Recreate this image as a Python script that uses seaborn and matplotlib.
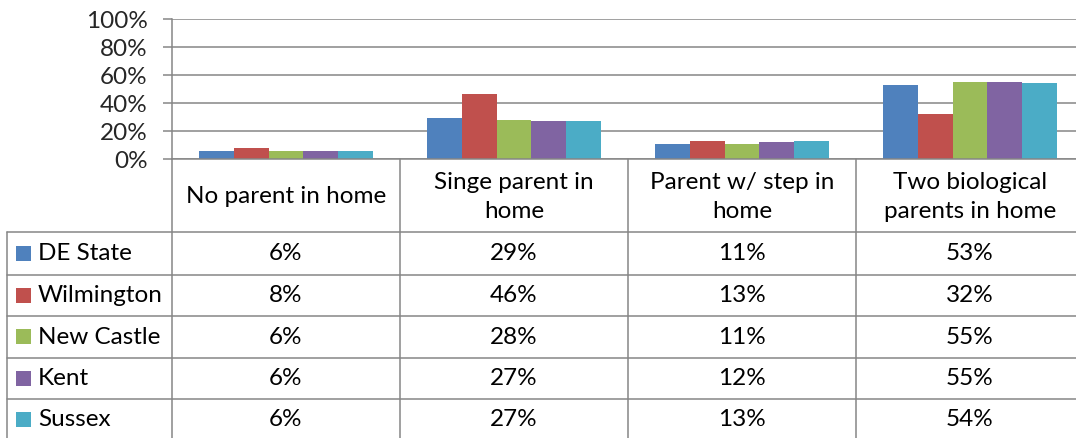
import matplotlib
matplotlib.use("Agg")
import matplotlib.pyplot as plt
import matplotlib.transforms as mtransforms
from matplotlib.lines import Line2D
from matplotlib.patches import Rectangle
from matplotlib.ticker import PercentFormatter
import seaborn as sns
import pandas as pd

# Household structure shares by area
categories = ["No parent in home", "Singe parent in home",
              "Parent w/ step in home", "Two biological parents in home"]
header_labels = ["No parent in home", "Singe parent in\nhome",
                 "Parent w/ step in\nhome", "Two biological\nparents in home"]
regions = ["DE State", "Wilmington", "New Castle", "Kent", "Sussex"]
de_state = [6, 29, 11, 53]
wilmington = [8, 46, 13, 32]
new_castle = [6, 28, 11, 55]
kent = [6, 27, 12, 55]
sussex = [6, 27, 13, 54]
colors = ["#4F81BD", "#C0504D", "#9BBB59", "#8064A2", "#4BACC6"]

series = [de_state, wilmington, new_castle, kent, sussex]
rows = []
for reg, vals in zip(regions, series):
    for cat, v in zip(categories, vals):
        rows.append({"category": cat, "region": reg, "share": v / 100})
df = pd.DataFrame(rows)

sns.set_style("white")
plt.rcParams["font.family"] = ["Lato", "DejaVu Sans"]
FS = 17.5
GRID = "#868686"

W, H = 1076, 439
fig = plt.figure(figsize=(W / 100, H / 100), dpi=100)

left_px, right_px, top_px, bottom_px = 172, 1084, 19.5, 160
ax = fig.add_axes([left_px / W, 1 - bottom_px / H,
                   (right_px - left_px) / W, (bottom_px - top_px) / H])

sns.barplot(data=df, x="category", y="share", hue="region", order=categories,
            hue_order=regions, palette=colors, width=0.767, linewidth=0,
            saturation=1, legend=False, ax=ax)

ax.set_xlim(-0.5, 3.5)
ax.set_ylim(0, 1)
ax.set_yticks([0, 0.2, 0.4, 0.6, 0.8, 1.0])
ax.yaxis.set_major_formatter(PercentFormatter(xmax=1, decimals=0))
ax.set_xlabel("")
ax.set_ylabel("")
ax.set_xticks([])
ax.yaxis.grid(True, color=GRID, linewidth=1.1)
ax.set_axisbelow(True)
ax.tick_params(axis="y", which="major", direction="out", length=6.5,
               width=1.1, color=GRID, labelsize=FS, pad=11, left=True)
for s in ["top", "right"]:
    ax.spines[s].set_visible(False)
for s in ["left", "bottom"]:
    ax.spines[s].set_color(GRID)
    ax.spines[s].set_linewidth(1.1)

# Data table beneath the plot
def fy(py):
    return 1 - py / H

col_tr = mtransforms.blended_transform_factory(ax.transData, fig.transFigure)
row_edges = [233, 275.5, 317, 358.5, 400]
row_centers = [254, 296, 337.5, 379, 420]

for xb in [-0.5, 0.5, 1.5, 2.5, 3.5]:
    fig.add_artist(Line2D([xb, xb], [fy(bottom_px), 0], transform=col_tr,
                          color=GRID, linewidth=1.1, clip_on=False))
for yb in row_edges:
    fig.add_artist(Line2D([7 / W, 1], [fy(yb), fy(yb)],
                          transform=fig.transFigure, color=GRID,
                          linewidth=1.1, clip_on=False))
fig.add_artist(Line2D([7 / W, 7 / W], [fy(233), 0], transform=fig.transFigure,
                      color=GRID, linewidth=1.1, clip_on=False))

for i, lab in enumerate(header_labels):
    fig.text(i, fy(197), lab, transform=col_tr, ha="center", va="center",
             fontsize=FS, linespacing=1.5, color="black")

for r, (reg, vals, c) in enumerate(zip(regions, series, colors)):
    yc = row_centers[r]
    fig.add_artist(Rectangle((16 / W, fy(yc + 7.5)), 15 / W, 15 / H,
                             transform=fig.transFigure, facecolor=c,
                             edgecolor="none"))
    fig.text(38 / W, fy(yc), reg, ha="left", va="center", fontsize=FS,
             color="black")
    for i, v in enumerate(vals):
        fig.text(i, fy(yc), f"{v}%", transform=col_tr, ha="center",
                 va="center", fontsize=FS, color="black")

fig.savefig("out.png", dpi=100)
